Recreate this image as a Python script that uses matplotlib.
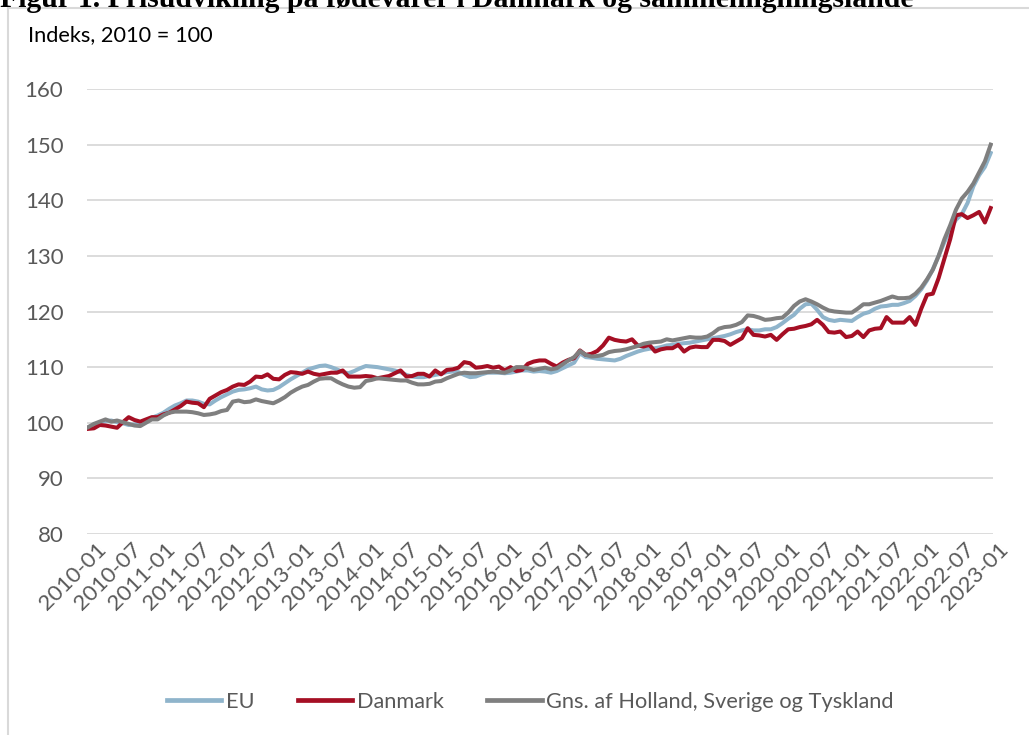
import matplotlib
matplotlib.use("Agg")
import matplotlib.pyplot as plt
import matplotlib.transforms as mtransforms
from matplotlib.lines import Line2D
import numpy as np
import pandas as pd

# ---------------- data ----------------
months = pd.period_range("2010-01", "2023-01", freq="M").strftime("%Y-%m").tolist()

eu = [
    99.2, 99.6, 100.1, 100.3, 100.4, 100.1, 99.9, 99.6, 99.7, 99.9, 100.4, 100.9,          # 2010
    101.3, 101.8, 102.5, 103.1, 103.5, 104.0, 104.0, 103.8, 103.4, 103.3, 104.0, 104.6,    # 2011
    105.1, 105.6, 105.9, 106.0, 106.2, 106.5, 106.0, 105.8, 105.9, 106.4, 107.1, 107.8,    # 2012
    108.4, 109.0, 109.6, 109.9, 110.2, 110.3, 110.0, 109.6, 109.1, 108.9, 109.3, 109.8,    # 2013
    110.2, 110.1, 110.0, 109.8, 109.6, 109.4, 109.1, 108.6, 108.3, 108.2, 108.2, 108.4,    # 2014
    108.6, 108.8, 109.1, 109.2, 109.1, 108.6, 108.2, 108.3, 108.7, 109.0, 109.0, 109.0,    # 2015
    108.9, 109.0, 109.2, 109.4, 109.4, 109.2, 109.3, 109.2, 109.0, 109.3, 109.8, 110.3,    # 2016
    110.8, 112.5, 111.8, 111.7, 111.5, 111.4, 111.3, 111.2, 111.5, 112.0, 112.4, 112.8,    # 2017
    113.1, 113.3, 113.4, 113.6, 113.9, 114.0, 114.2, 114.3, 114.4, 114.6, 114.8, 115.0,    # 2018
    115.2, 115.4, 115.6, 115.9, 116.3, 116.6, 116.8, 116.6, 116.6, 116.8, 116.8, 117.2,    # 2019
    117.9, 118.7, 119.4, 120.5, 121.3, 121.4, 120.3, 119.0, 118.5, 118.3, 118.5, 118.4,    # 2020
    118.3, 119.0, 119.6, 119.9, 120.5, 120.9, 121.0, 121.2, 121.2, 121.5, 121.9, 122.8,    # 2021
    124.0, 125.6, 127.6, 130.0, 132.5, 134.7, 136.5, 137.5, 139.5, 142.5, 144.5, 146.0,    # 2022
    148.5,                                                                                 # 2023-01
]

danmark = [
    98.9, 99.0, 99.6, 99.5, 99.3, 99.1, 100.1, 101.0, 100.5, 100.2, 100.6, 101.0,
    101.0, 101.5, 101.8, 102.4, 103.0, 103.8, 103.6, 103.5, 102.8, 104.3, 104.9, 105.5,
    105.9, 106.5, 106.9, 106.8, 107.4, 108.3, 108.2, 108.7, 107.9, 107.8, 108.6, 109.1,
    109.0, 108.8, 109.2, 108.8, 108.6, 108.8, 109.0, 109.0, 109.4, 108.3, 108.3, 108.3,
    108.4, 108.3, 108.0, 108.2, 108.4, 108.9, 109.4, 108.3, 108.4, 108.8, 108.8, 108.3,
    109.4, 108.7, 109.5, 109.6, 109.9, 110.9, 110.7, 109.9, 110.0, 110.2, 109.9, 110.1,
    109.4, 110.0, 109.3, 109.5, 110.6, 111.0, 111.2, 111.2, 110.6, 110.1, 110.8, 111.3,
    111.6, 113.0, 112.2, 112.4, 112.9, 113.9, 115.3, 114.9, 114.7, 114.6, 115.0, 113.9,
    113.7, 114.0, 112.8, 113.2, 113.4, 113.4, 114.0, 112.8, 113.5, 113.7, 113.6, 113.6,
    114.9, 114.9, 114.7, 114.0, 114.6, 115.2, 117.0, 115.8, 115.7, 115.5, 115.8, 114.9,
    115.9, 116.8, 116.9, 117.2, 117.4, 117.7, 118.5, 117.6, 116.3, 116.2, 116.4, 115.4,
    115.6, 116.4, 115.4, 116.6, 116.9, 117.0, 119.0, 118.0, 118.0, 118.0, 119.0, 117.6,
    120.5, 123.0, 123.2, 126.0, 129.5, 133.0, 137.3, 137.5, 136.8, 137.3, 137.9, 136.0,
    138.6,
]

gns = [
    99.2, 99.8, 100.2, 100.6, 100.2, 100.4, 100.1, 99.8, 99.5, 99.4, 100.0, 100.6,
    100.6, 101.3, 101.8, 102.0, 102.0, 102.0, 101.9, 101.7, 101.4, 101.5, 101.7, 102.1,
    102.3, 103.8, 104.0, 103.7, 103.8, 104.2, 103.9, 103.7, 103.5, 104.0, 104.6, 105.4,
    106.0, 106.5, 106.8, 107.4, 107.9, 108.0, 108.0, 107.4, 106.9, 106.5, 106.3, 106.4,
    107.5, 107.7, 108.0, 107.9, 107.8, 107.7, 107.6, 107.6, 107.2, 106.9, 106.9, 107.0,
    107.4, 107.5, 108.0, 108.4, 108.8, 109.0, 108.9, 108.9, 109.0, 109.1, 109.2, 109.1,
    109.0, 109.4, 110.0, 110.0, 109.8, 109.5, 109.7, 109.9, 109.6, 109.8, 110.5, 111.2,
    111.8, 112.9, 112.2, 111.9, 112.0, 112.2, 112.7, 112.9, 113.0, 113.2, 113.5, 113.8,
    114.2, 114.4, 114.5, 114.6, 115.0, 114.8, 115.0, 115.2, 115.4, 115.3, 115.3, 115.5,
    116.1, 116.9, 117.2, 117.3, 117.6, 118.1, 119.3, 119.2, 118.9, 118.5, 118.6, 118.8,
    118.9, 119.8, 121.0, 121.8, 122.2, 121.8, 121.3, 120.7, 120.2, 120.0, 119.9, 119.8,
    119.8, 120.5, 121.3, 121.3, 121.6, 121.9, 122.3, 122.7, 122.4, 122.4, 122.5, 123.2,
    124.3, 125.8, 127.5, 130.0, 133.0, 135.5, 138.3, 140.3, 141.5, 143.0, 145.0, 147.0,
    150.0,
]

series_names = ["EU", "Danmark", "Gns. af Holland, Sverige og Tyskland"]
yticks = [80, 90, 100, 110, 120, 130, 140, 150, 160]
title = "Figur 1. Prisudvikling på fødevarer i Danmark og sammenligningslande"
ylabel_text = "Indeks, 2010 = 100"

# ---------------- styling ----------------
W, H = 1029, 735
FONT = ["Lato", "DejaVu Sans"]
c_eu = "#8fb4cb"
c_dk = "#a50f24"
c_gns = "#7f7f7f"
grid_c = "#d9d9d9"
text_c = "#595959"
TICK_FS = 16
LEG_FS = 15.7

fig = plt.figure(figsize=(W / 100, H / 100), dpi=100)
fig.patch.set_facecolor("white")

def px(x, y):
    return x / W, 1 - y / H

# chart frame (light gray border, left + top visible)
fig.add_artist(Line2D([8 / W, 8 / W], [1 - 8 / H, -0.01], color=grid_c, lw=1.5,
                      transform=fig.transFigure))
fig.add_artist(Line2D([8 / W, 1.01], [1 - 8 / H, 1 - 8 / H], color=grid_c, lw=1.5,
                      transform=fig.transFigure))

# title (partly cut off at the top edge, as in the reference)
fig.text(0.0, 1 - 7 / H, title, family="Liberation Serif", weight="bold",
         fontsize=21.4, ha="left", va="baseline", color="black")

left, right, top, bottom = 87, 993, 89, 534
ax = fig.add_axes([left / W, 1 - bottom / H, (right - left) / W, (bottom - top) / H])

x = np.arange(len(months))
ax.plot(x, eu, color=c_eu, lw=2.9, label=series_names[0], solid_joinstyle="round")
ax.plot(x, danmark, color=c_dk, lw=2.9, label=series_names[1], solid_joinstyle="round")
ax.plot(x, gns, color=c_gns, lw=2.9, label=series_names[2], solid_joinstyle="round")

ax.set_xlim(-0.2, len(months) - 1 + 0.4)
ax.set_ylim(80, 160)
ax.set_yticks(yticks)
ax.set_yticklabels([str(v) for v in yticks], family=FONT, fontsize=TICK_FS, color=text_c)
ax.tick_params(axis="y", length=0, pad=17)
ax.grid(axis="y", color=grid_c, lw=1.3)
ax.set_axisbelow(True)
for s in ax.spines.values():
    s.set_visible(False)

tick_pos = x[::6]
ax.set_xticks(tick_pos)
ax.set_xticklabels([months[i] for i in tick_pos], family=FONT, fontsize=TICK_FS, color=text_c)
ax.tick_params(axis="x", length=0, pad=0)
offset = mtransforms.ScaledTranslation(15 / 100, -12 / 100, fig.dpi_scale_trans)
for lab in ax.get_xticklabels():
    lab.set_rotation(45)
    lab.set_ha("right")
    lab.set_va("center")
    lab.set_rotation_mode("anchor")
    lab.set_transform(lab.get_transform() + offset)

fig.text(28 / W, 1 - 35 / H, ylabel_text, family=FONT, fontsize=LEG_FS, color="black",
         ha="left", va="center")

leg = fig.legend(handles=ax.get_lines(), labels=series_names, loc="center",
                 bbox_to_anchor=px(530, 702), ncol=3, frameon=False,
                 prop={"family": FONT, "size": LEG_FS}, handlelength=2.5,
                 handletextpad=0.2, columnspacing=2.0, labelcolor=text_c)
for h in leg.legend_handles:
    h.set_linewidth(3.4)

fig.savefig("out.png", dpi=100, facecolor="white")
